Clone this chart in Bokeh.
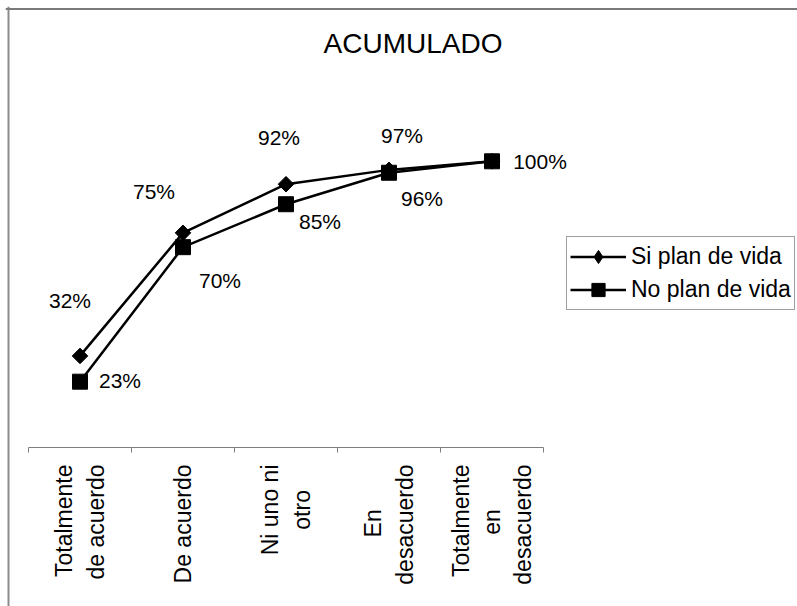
import math
from bokeh.plotting import figure
from bokeh.models import (Range1d, LinearAxis, FixedTicker, Legend, LegendItem,
                          Label, Span, ColumnDataSource)
from bokeh.core.properties import value
from bokeh.embed import file_html
from bokeh.resources import INLINE

# ---------------- data ----------------
categories = ["Totalmente de acuerdo", "De acuerdo", "Ni uno ni otro",
              "En desacuerdo", "Totalmente en desacuerdo"]
tick_lines = [["Totalmente", "de acuerdo"], ["De acuerdo"], ["Ni uno ni", "otro"],
              ["En", "desacuerdo"], ["Totalmente", "en", "desacuerdo"]]
si_plan = [32, 75, 92, 97, 100]
no_plan = [23, 70, 85, 96, 100]
series_names = ["Si plan de vida", "No plan de vida"]
title_text = "ACUMULADO"

# ---------------- layout / style (pixels) ----------------
W, H = 797, 606
FRAME_L, FRAME_T = 5, 6
X0_PX, X_STEP = 28, 103        # left end of the category axis, width of one category
Y0_PX, Y_UNIT = 447, 2.862     # pixel row of 0 %, pixels per 1 %
FONT = "Liberation Sans"

# trailing no-break spaces that centre the short lines of the rotated tick labels
line_pad = [[0, 0], [0], [0, 4], [7, 0], [0, 7, 0]]

# label placement (screen px offsets from each point)
si_label_dx = [-10, -29, -7, 13, 0]
si_label_dy = [-55, -41, -47, -34, 0]
si_label_show = [True, True, True, True, False]
no_label_dx = [40, 37, 34, 33, 48]
no_label_dy = [-1, 33, 17, 26, 0]
no_label_show = [True, True, True, True, True]


def x_of(px):
    return (px - X0_PX) / X_STEP


def y_of(py):
    return (Y0_PX - py) / Y_UNIT


xs = [i + 0.5 for i in range(len(categories))]
tick_text = ["\n".join(line + "\u00a0" * n for line, n in zip(lines, pads))
             for lines, pads in zip(tick_lines, line_pad)]

p = figure(width=W, height=H, output_backend="svg", toolbar_location=None,
           x_range=Range1d(x_of(FRAME_L), x_of(W)),
           y_range=Range1d(y_of(H), y_of(FRAME_T)),
           min_border_left=FRAME_L, min_border_top=FRAME_T,
           min_border_right=0, min_border_bottom=0,
           x_axis_location=None, y_axis_location=None)
p.outline_line_color = None
p.grid.visible = False
p.xgrid.visible = False
p.ygrid.visible = False
p.background_fill_color = "white"
p.border_fill_color = "white"

# chart-area border (top and left visible, like the reference)
p.add_layout(Span(location=x_of(8), dimension="height", line_color="#8c8c8c", line_width=2))
p.add_layout(Span(location=y_of(8.5), dimension="width", line_color="#7a7a7a", line_width=2))

# category axis at 0 %
ax = LinearAxis(fixed_location=0, bounds=(0, len(categories)),
                ticker=FixedTicker(ticks=xs, minor_ticks=list(range(len(categories) + 1))),
                major_label_overrides={x: lab for x, lab in zip(xs, tick_text)},
                major_label_orientation=math.pi / 2)
ax.axis_line_color = "#7f7f7f"
ax.axis_line_width = 1
ax.major_tick_out = 0
ax.major_tick_in = 0
ax.minor_tick_out = 5
ax.minor_tick_in = 0
ax.minor_tick_line_color = "#7f7f7f"
ax.major_label_standoff = 12
ax.major_label_text_font = FONT
ax.major_label_text_font_size = "23px"
ax.major_label_text_color = "black"
p.add_layout(ax, "below")

# series
r_si_line = p.line(xs, si_plan, line_color="black", line_width=2.5)
r_si_diam = p.scatter(xs, si_plan, marker="diamond", size=14,
                      fill_color="black", line_color="black")
r_si_mark = p.scatter(xs, si_plan, marker="square", angle=math.pi / 4, size=11,
                      fill_color="black", line_color="black")
r_no_line = p.line(xs, no_plan, line_color="black", line_width=2.5)
r_no_mark = p.scatter(xs, no_plan, marker="square", size=15,
                      fill_color="black", line_color="black")


def label_source(vals, dx, dy, show):
    idx = [i for i, s in enumerate(show) if s]
    return ColumnDataSource(dict(
        x=[xs[i] for i in idx], y=[vals[i] for i in idx],
        text=[f"{vals[i]}%" for i in idx],
        dx=[dx[i] for i in idx], dy=[dy[i] for i in idx]))


for src in (label_source(si_plan, si_label_dx, si_label_dy, si_label_show),
            label_source(no_plan, no_label_dx, no_label_dy, no_label_show)):
    p.text("x", "y", text="text", source=src, x_offset="dx", y_offset="dy",
           text_align="center", text_baseline="middle", text_font=value(FONT),
           text_font_size="21px", text_color="black")

# title
p.add_layout(Label(x=x_of(412.5), y=y_of(43), text=title_text, text_align="center",
                   text_baseline="middle", text_font=FONT, text_font_size="28px",
                   text_color="black"))

# legend
legend = Legend(items=[LegendItem(label=series_names[0], renderers=[r_si_line, r_si_diam]),
                       LegendItem(label=series_names[1], renderers=[r_no_line, r_no_mark])],
                location=(561, 296), orientation="vertical",
                glyph_width=56, glyph_height=33, label_height=30, label_standoff=5,
                spacing=0, padding=3, margin=0,
                label_text_font=FONT, label_text_font_size="23px", label_text_color="black",
                border_line_color="#404040", border_line_width=1,
                background_fill_color="white", background_fill_alpha=1)
p.add_layout(legend)

open("out.html", "w").write(file_html(p, INLINE))
